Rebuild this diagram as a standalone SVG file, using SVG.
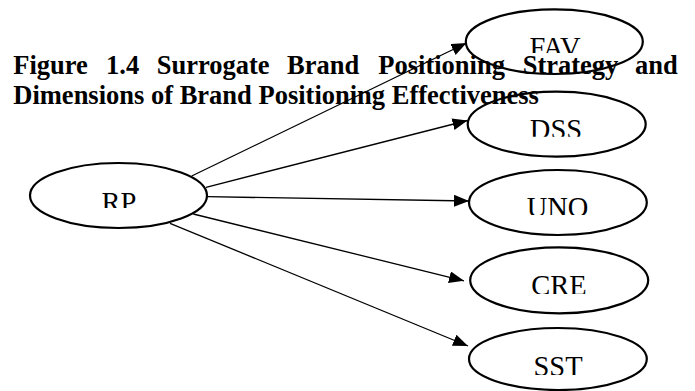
<svg xmlns="http://www.w3.org/2000/svg" width="695" height="391" viewBox="0 0 695 391">
<style>
.node ellipse{fill:none;stroke:#000;stroke-width:2.2}
.lbl{font-family:"Liberation Serif","Times New Roman",serif;font-size:28.5px;fill:#000;text-anchor:middle}
.title{font-family:"Liberation Serif","Times New Roman",serif;font-size:26.5px;font-weight:bold;fill:#000}
#connectors line{stroke:#000;stroke-width:1.3;marker-end:url(#arr)}
</style>
<defs>
<marker id="arr" markerUnits="userSpaceOnUse" markerWidth="16" markerHeight="13" refX="15" refY="6" orient="auto">
<path d="M0,0 L15,6 L0,12 z" fill="#000"/>
</marker>
<clipPath id="cRP"><rect x="0" y="0" width="695" height="208"/></clipPath>
<clipPath id="cFAV"><rect x="0" y="0" width="695" height="53"/></clipPath>
<clipPath id="cDSS"><rect x="0" y="0" width="695" height="136.7"/></clipPath>
<clipPath id="cUNO"><rect x="0" y="0" width="695" height="215"/></clipPath>
<clipPath id="cCRE"><rect x="0" y="0" width="695" height="294"/></clipPath>
<clipPath id="cSST"><rect x="0" y="0" width="695" height="375"/></clipPath>
</defs>
<rect width="695" height="391" fill="#fff"/>
<g id="title">
<text class="title" y="74"><tspan x="13.3">Figure</tspan><tspan x="106">1.4</tspan><tspan x="156.7">Surrogate</tspan><tspan x="287">Brand</tspan><tspan x="378.3">Positioning</tspan><tspan x="522.7">Strategy</tspan><tspan x="635">and</tspan></text>
<text class="title" x="13.3" y="103.5">Dimensions of Brand Positioning Effectiveness</text>
</g>
<g id="connectors">
<line x1="191.7" y1="176" x2="466.5" y2="43"/>
<line x1="206" y1="187.3" x2="467.5" y2="120.5"/>
<line x1="207" y1="196.7" x2="469" y2="201"/>
<line x1="193.3" y1="214" x2="464" y2="280.8"/>
<line x1="170" y1="223.3" x2="468" y2="346"/>
</g>
<g id="RP" class="node"><ellipse cx="118.5" cy="195.5" rx="88.5" ry="32.5"/><text class="lbl" x="119" y="212" clip-path="url(#cRP)">RP</text></g>
<g id="FAV" class="node"><ellipse cx="554.3" cy="41.7" rx="88.5" ry="32.3"/><text class="lbl" x="555" y="57" clip-path="url(#cFAV)">FAV</text></g>
<g id="DSS" class="node"><ellipse cx="556.7" cy="124.2" rx="89" ry="32.5"/><text class="lbl" x="556" y="139" clip-path="url(#cDSS)">DSS</text></g>
<g id="UNO" class="node"><ellipse cx="557.9" cy="202.5" rx="88.9" ry="32.5"/><text class="lbl" x="557.5" y="217" clip-path="url(#cUNO)">UNO</text></g>
<g id="CRE" class="node"><ellipse cx="559.2" cy="280.3" rx="89" ry="33"/><text class="lbl" x="559" y="295" clip-path="url(#cCRE)">CRE</text></g>
<g id="SST" class="node"><ellipse cx="557.9" cy="359" rx="88.9" ry="31"/><text class="lbl" x="558" y="375.5" clip-path="url(#cSST)">SST</text></g>
</svg>
